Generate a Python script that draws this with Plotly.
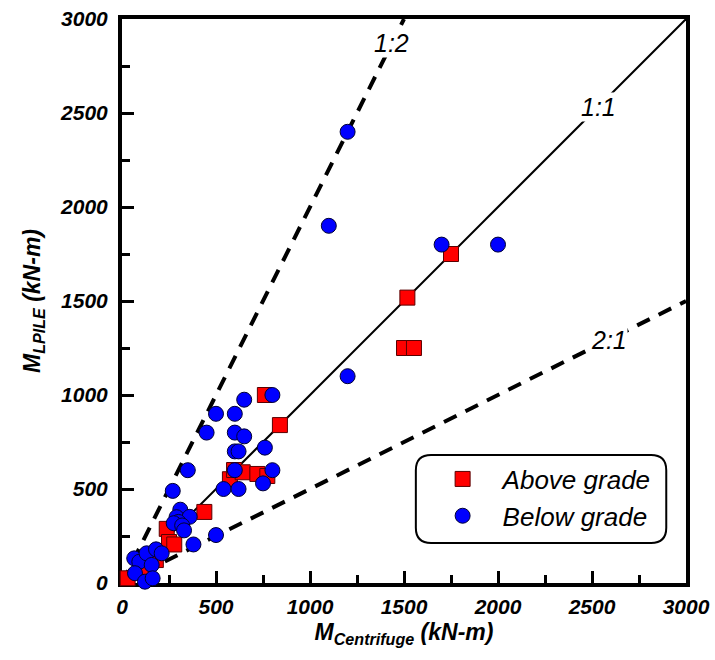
import plotly.graph_objects as go

# Measured bending moments (kN-m): centrifuge vs. LPILE prediction
above_centrifuge = [30, 760, 840, 574, 596, 642, 720, 773, 438, 238, 250, 278,
                    1750, 1518, 1500, 1553, 180, 118]
above_lpile = [25, 1000, 840, 552, 601, 589, 580, 569, 378, 288, 218, 205,
               1750, 1518, 1250, 1250, 122, 65]

below_centrifuge = [1200, 1100, 1700, 2000, 1200,
                    800, 650, 500, 600, 450, 600, 650, 760, 600, 620,
                    350, 600, 800, 750, 540, 620, 270, 500, 380,
                    310, 290, 360, 300, 275, 320, 330,
                    65, 92, 131, 181, 211, 158, 69, 122, 163]
below_lpile = [2400, 1900, 1800, 1800, 1100,
               1000, 975, 900, 900, 800, 800, 780, 720, 700, 700,
               600, 600, 600, 530, 500, 500, 490, 255, 205,
               390, 350, 352, 325, 318, 306, 280,
               131, 113, 158, 179, 158, 96, 52, 7, 25]

# Reference ratio lines: label, end point, line style, label position
ratio_labels = ["1:2", "1:1", "2:1"]
ratio_end_x = [1500, 3000, 3000]
ratio_end_y = [3000, 3000, 1500]
ratio_dash = ["14px,10px", "solid", "14px,10px"]
ratio_width = [4, 2, 4]
ratio_label_x = [1436, 2532, 2590]

axis_ticks = [0, 500, 1000, 1500, 2000, 2500, 3000]

fig = go.Figure()

for lab, ex, ey, dsh, w in zip(ratio_labels, ratio_end_x, ratio_end_y, ratio_dash, ratio_width):
    fig.add_trace(go.Scatter(
        x=[0, ex], y=[0, ey], mode="lines",
        line=dict(color="black", width=w, dash=dsh),
        showlegend=False, hoverinfo="skip", cliponaxis=True))

for lab, ex, ey, lx in zip(ratio_labels, ratio_end_x, ratio_end_y, ratio_label_x):
    fig.add_annotation(
        x=lx, y=lx * ey / ex, text=lab, showarrow=False,
        font=dict(family="Liberation Sans, Arial", size=25, color="black", style="italic"),
        bgcolor="white", borderpad=0)

fig.add_trace(go.Scatter(
    x=above_centrifuge, y=above_lpile, mode="markers", name="Above grade",
    marker=dict(symbol="square", size=15, color="#FF0000",
                line=dict(color="#5a0000", width=1)),
    cliponaxis=False))

fig.add_trace(go.Scatter(
    x=below_centrifuge, y=below_lpile, mode="markers", name="Below grade",
    marker=dict(symbol="circle", size=15, color="#0000FF",
                line=dict(color="#000033", width=1)),
    cliponaxis=False))

tick_font = dict(family="Liberation Sans, Arial", size=21, color="black",
                 weight="bold", style="italic")
title_font = dict(family="Liberation Sans, Arial", size=23, color="black",
                  weight="bold", style="italic")

axis_common = dict(
    range=[0, 3000], tickvals=axis_ticks, ticktext=[str(t) for t in axis_ticks],
    ticks="inside", ticklen=12, tickwidth=3, tickcolor="black",
    minor=dict(dtick=250, tick0=0, ticks="inside", ticklen=8, tickwidth=3, tickcolor="black"),
    showline=True, linecolor="black", linewidth=4, mirror=True,
    showgrid=False, zeroline=False, tickfont=tick_font, layer="below traces",
    automargin=False,
)

fig.update_xaxes(**axis_common,
                 title=dict(text="M<sub>Centrifuge</sub> (kN-m)", font=title_font, standoff=8),
                 ticklabelstandoff=2)
fig.update_yaxes(**axis_common,
                 title=dict(text="M<sub>LPILE</sub> (kN-m)", font=title_font, standoff=14),
                 ticklabelstandoff=6)

# Rounded frame around the legend (paper coordinates, square plot area)
bx0, bx1, by0, by1, r = 0.521, 0.965, 0.071, 0.227, 0.027
path = (f"M {bx0 + r},{by0} L {bx1 - r},{by0} Q {bx1},{by0} {bx1},{by0 + r} "
        f"L {bx1},{by1 - r} Q {bx1},{by1} {bx1 - r},{by1} "
        f"L {bx0 + r},{by1} Q {bx0},{by1} {bx0},{by1 - r} "
        f"L {bx0},{by0 + r} Q {bx0},{by0} {bx0 + r},{by0} Z")
fig.add_shape(type="path", path=path, xref="paper", yref="paper",
              line=dict(color="black", width=2), fillcolor="white", layer="above")

fig.update_layout(
    width=715, height=660,
    margin=dict(l=122, r=29, t=19, b=77),
    plot_bgcolor="white", paper_bgcolor="white",
    legend=dict(x=0.533, y=0.226, xanchor="left", yanchor="top",
                bgcolor="rgba(0,0,0,0)", borderwidth=0, itemwidth=70,
                font=dict(family="Liberation Sans, Arial", size=26, color="black",
                          style="italic"),
                tracegroupgap=4),
    showlegend=True,
)

fig.write_html("out.html")
